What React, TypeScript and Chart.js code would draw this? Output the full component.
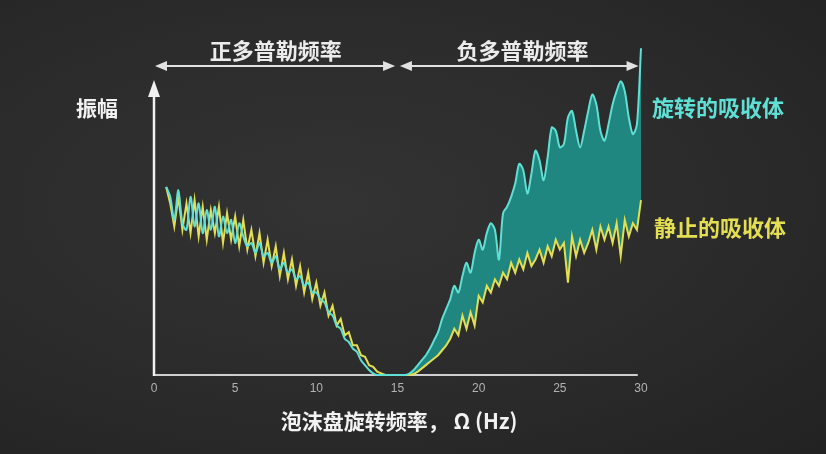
import React, { useEffect, useRef } from "react";
import { Chart, registerables } from "chart.js";

Chart.register(...registerables);

// Foam-disk rotation frequency (Hz)
const freqs = [
  0.75,
  1, 1.25, 1.5, 1.75,
  2, 2.25, 2.5, 2.75,
  3, 3.25, 3.5, 3.75,
  4, 4.25, 4.5, 4.75,
  5, 5.25, 5.5, 5.75,
  6, 6.25, 6.5, 6.75,
  7, 7.25, 7.5, 7.75,
  8, 8.25, 8.5, 8.75,
  9, 9.25, 9.5, 9.75,
  10, 10.25, 10.5, 10.75,
  11, 11.25, 11.5, 11.75,
  12, 12.25, 12.5, 12.75,
  13, 13.25, 13.5, 13.75,
  14, 14.25, 14.5, 14.75,
  15, 15.25, 15.5, 15.75,
  16, 16.25, 16.5, 16.75,
  17, 17.25, 17.5, 17.75,
  18, 18.25, 18.5, 18.75,
  19, 19.25, 19.5, 19.75,
  20, 20.25, 20.5, 20.75,
  21, 21.25, 21.5, 21.75,
  22, 22.25, 22.5, 22.75,
  23, 23.25, 23.5, 23.75,
  24, 24.25, 24.5, 24.75,
  25, 25.25, 25.5, 25.75,
  26, 26.25, 26.5, 26.75,
  27, 27.25, 27.5, 27.75,
  28, 28.25, 28.5, 28.75,
  29, 29.25, 29.5, 29.75,
  30,
];

// Amplitude with the rotating absorber
const rotating = [
  57,
  54, 47, 56, 46,
  44, 54, 45, 52,
  43, 50, 44, 51,
  42, 48, 43, 47,
  40, 46, 42, 39,
  40, 37, 40, 36,
  37, 34, 36, 32,
  34, 31, 32, 29,
  30, 27, 28, 25,
  25, 23, 22, 19,
  18, 15, 14, 11,
  10, 8, 7, 4.5,
  3, 1.5, 0.5, 0,
  0, 0, 0, 0,
  0, 0, 0, 0.5,
  1.5, 3, 4.5, 6,
  8, 10.5, 13, 17,
  20, 23, 27, 25,
  30, 34, 31, 37,
  41, 38, 43, 46,
  44, 35, 49, 51,
  54, 58, 64, 62,
  55, 61, 68, 65,
  59, 66, 75, 74,
  69, 70, 78, 80,
  74, 69, 74, 80,
  85, 82, 74, 71,
  76, 82, 86, 89,
  86, 78, 73, 76,
  99,
];

// Amplitude with the stationary absorber
const stationary = [
  57,
  52, 45, 54, 44,
  52, 43, 53, 42,
  51, 41, 50, 43,
  51, 40, 49, 41,
  48, 39, 47, 38,
  44, 36, 43, 34,
  41, 33, 39, 30,
  37, 29, 35, 27,
  33, 25, 31, 23,
  28, 21, 25, 18,
  21, 15, 17, 12,
  13, 9, 9, 6,
  5.5, 3, 2.5, 1,
  0.5, 0, 0, 0,
  0, 0, 0, 0,
  0.3, 1, 2, 3,
  4, 5, 6, 7.5,
  9, 11, 14, 12,
  18, 14, 19, 15,
  24, 22, 27, 25,
  29, 27, 31, 29,
  34, 31, 35, 32,
  37, 33, 35, 38,
  34, 39, 36, 41,
  38, 40, 28, 42,
  36, 41, 37, 40,
  44, 38, 45, 41,
  45, 40, 46, 36,
  47, 42, 46, 44,
  53,
];

const xTicks = [0, 5, 10, 15, 20, 25, 30];
const fillStart = 15.5;

const CJK = '"Noto Sans CJK SC", "Noto Sans", sans-serif';
const CYAN = "#5fe0d5";
const YELLOW = "#e4df52";
const TEAL = "rgba(30, 142, 136, 0.92)";

function doubleArrow(ctx: CanvasRenderingContext2D, xa: number, xb: number, y: number) {
  const head = 12;
  const half = 5;
  ctx.strokeStyle = "#e2e2e2";
  ctx.fillStyle = "#e2e2e2";
  ctx.lineWidth = 2;
  ctx.beginPath();
  ctx.moveTo(xa + head - 2, y);
  ctx.lineTo(xb - head + 2, y);
  ctx.stroke();
  ctx.beginPath();
  ctx.moveTo(xa, y);
  ctx.lineTo(xa + head, y - half);
  ctx.lineTo(xa + head, y + half);
  ctx.closePath();
  ctx.fill();
  ctx.beginPath();
  ctx.moveTo(xb, y);
  ctx.lineTo(xb - head, y - half);
  ctx.lineTo(xb - head, y + half);
  ctx.closePath();
  ctx.fill();
}

const axesPlugin = {
  id: "chalkAxes",
  beforeDraw(chart: any) {
    const { ctx, scales } = chart;
    const x = scales.x;
    const y = scales.y;
    const x0 = x.getPixelForValue(0);
    const y0 = y.getPixelForValue(0);
    ctx.save();
    // horizontal axis
    ctx.strokeStyle = "#cfcfcf";
    ctx.lineWidth = 2;
    ctx.beginPath();
    ctx.moveTo(x0, y0);
    ctx.lineTo(x.getPixelForValue(29.8), y0);
    ctx.stroke();
    // vertical axis with arrowhead
    ctx.strokeStyle = "#f0f0f0";
    ctx.fillStyle = "#f0f0f0";
    ctx.lineWidth = 2.5;
    ctx.beginPath();
    ctx.moveTo(x0, y0 + 1);
    ctx.lineTo(x0, 94);
    ctx.stroke();
    ctx.beginPath();
    ctx.moveTo(x0, 80);
    ctx.lineTo(x0 - 6, 97);
    ctx.lineTo(x0 + 6, 97);
    ctx.closePath();
    ctx.fill();
    ctx.restore();
  },
  afterDraw(chart: any) {
    const { ctx, scales } = chart;
    const x = scales.x;
    const y = scales.y;
    const y0 = y.getPixelForValue(0);
    ctx.save();
    // tick labels
    ctx.font = '12px "Liberation Sans", Arial, sans-serif';
    ctx.fillStyle = "#b3b3b3";
    ctx.textAlign = "center";
    ctx.textBaseline = "middle";
    xTicks.forEach((t) => {
      ctx.fillText(String(t), x.getPixelForValue(t), y0 + 14);
    });
    // axis titles
    ctx.font = `bold 21px ${CJK}`;
    ctx.fillStyle = "#f2f2f2";
    ctx.fillText("泡沫盘旋转频率， Ω (Hz)", x.getPixelForValue(15.1), 421);
    ctx.fillText("振幅", 97, 108);
    // Doppler regions
    doubleArrow(ctx, x.getPixelForValue(0) + 1, x.getPixelForValue(14.85), 66);
    doubleArrow(ctx, x.getPixelForValue(15.15), x.getPixelForValue(29.85), 66);
    ctx.font = `bold 22px ${CJK}`;
    ctx.fillStyle = "#ececec";
    ctx.fillText("正多普勒频率", x.getPixelForValue(7.5), 51);
    ctx.fillText("负多普勒频率", x.getPixelForValue(22.7), 51);
    // series labels
    ctx.textAlign = "left";
    ctx.fillStyle = CYAN;
    ctx.fillText("旋转的吸收体", 652, 108);
    ctx.fillStyle = YELLOW;
    ctx.fillText("静止的吸收体", 654, 228);
    ctx.restore();
  },
};

export default function App() {
  const canvasRef = useRef<HTMLCanvasElement | null>(null);

  useEffect(() => {
    const canvas = canvasRef.current;
    if (!canvas) return;
    const chart = new Chart(canvas, {
      type: "line",
      data: {
        datasets: [
          {
            label: "旋转的吸收体",
            data: freqs.map((f, i) => ({ x: f, y: rotating[i] })),
            borderColor: CYAN,
            borderWidth: 2,
            tension: 0.3,
            pointRadius: 0,
            clip: false,
            fill: "+1",
            backgroundColor: TEAL,
            segment: {
              backgroundColor: (c: any) =>
                c.p0.parsed.x >= fillStart ? TEAL : "rgba(0,0,0,0)",
            },
          },
          {
            label: "静止的吸收体",
            data: freqs.map((f, i) => ({ x: f, y: stationary[i] })),
            borderColor: YELLOW,
            borderWidth: 2,
            tension: 0,
            pointRadius: 0,
            clip: false,
            fill: false,
          },
        ],
      },
      options: {
        responsive: false,
        animation: false,
        devicePixelRatio: 1,
        layout: { padding: { left: 154, right: 185, top: 45, bottom: 79 } },
        scales: {
          x: { type: "linear", min: 0, max: 30, display: false },
          y: { type: "linear", min: 0, max: 100, display: false },
        },
        plugins: {
          legend: { display: false },
          tooltip: { enabled: false },
          filler: { drawTime: "beforeDatasetsDraw" },
        },
      } as any,
      plugins: [axesPlugin],
    });
    return () => chart.destroy();
  }, []);

  return (
    <div
      style={{
        position: "fixed",
        left: 0,
        top: 0,
        width: 826,
        height: 454,
        background:
          "radial-gradient(ellipse at 40% 45%, #333333 0%, #2b2b2b 55%, #222222 100%)",
      }}
    >
      <canvas ref={canvasRef} width={826} height={454} style={{ display: "block" }} />
    </div>
  );
}
